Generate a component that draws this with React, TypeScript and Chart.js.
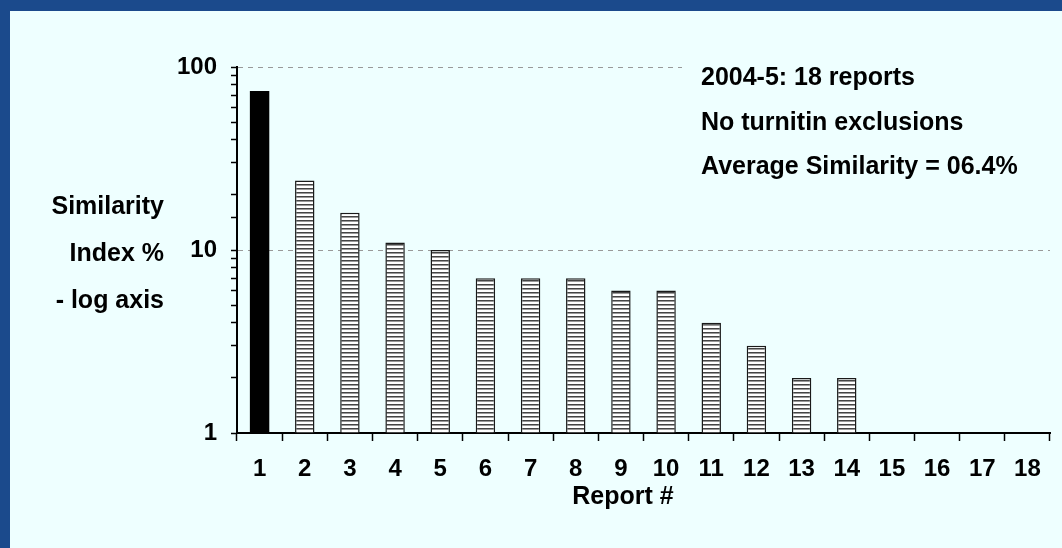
import React, { useEffect, useRef } from "react";
import { Chart, registerables } from "chart.js";

Chart.register(...registerables);

const categories = ["1", "2", "3", "4", "5", "6", "7", "8", "9", "10", "11", "12", "13", "14", "15", "16", "17", "18"];
const similarity: (number | null)[] = [74, 24, 16, 11, 10, 7, 7, 7, 6, 6, 4, 3, 2, 2, null, null, null, null];
const majorTicks = [1, 10, 100];
const noteLines = ["2004-5: 18 reports", "No turnitin exclusions", "Average Similarity = 06.4%"];
const yTitleLines = ["Similarity", "Index %", "- log axis"];
const xTitle = "Report #";

const FONT_FAMILY = "'Liberation Sans', Arial, Helvetica, sans-serif";
const BG = "#EEFFFF";
const FRAME = "#1B4A8C";

function makeStripePattern(): CanvasPattern | string {
  const c = document.createElement("canvas");
  c.width = 4;
  c.height = 4;
  const g = c.getContext("2d");
  if (!g) return "#fff";
  g.fillStyle = "#ffffff";
  g.fillRect(0, 0, 4, 4);
  g.fillStyle = "#444444";
  g.fillRect(0, 0, 4, 1);
  g.fillStyle = "#9a9a9a";
  g.fillRect(0, 1, 4, 1);
  const p = g.createPattern(c, "repeat");
  return p || "#fff";
}

const textPlugin = {
  id: "customText",
  afterDraw(chart: any) {
    const ctx = chart.ctx as CanvasRenderingContext2D;
    ctx.save();
    // note box covering grid
    ctx.fillStyle = BG;
    ctx.fillRect(682, 48, 370, 150);
    ctx.fillStyle = "#000";
    ctx.font = `bold 25px ${FONT_FAMILY}`;
    ctx.textBaseline = "alphabetic";
    ctx.textAlign = "left";
    const noteBase = [85, 130, 174];
    noteLines.forEach((t, i) => ctx.fillText(t, 701, noteBase[i]));
    // y title
    ctx.textAlign = "right";
    const yBase = [214, 261, 308];
    yTitleLines.forEach((t, i) => ctx.fillText(t, 164, yBase[i]));
    // x title
    ctx.textAlign = "center";
    ctx.fillText(xTitle, 623, 504);
    ctx.restore();
  },
};

export default function App() {
  const ref = useRef<HTMLCanvasElement | null>(null);

  useEffect(() => {
    document.body.style.margin = "0";
    const canvas = ref.current;
    if (!canvas) return;
    const stripe = makeStripePattern();
    const colors = similarity.map((_, i) => (i === 0 ? "#000000" : stripe));
    const borders = similarity.map((_, i) => (i === 0 ? 0 : 1.5));
    const chart = new Chart(canvas, {
      type: "bar",
      data: {
        labels: categories,
        datasets: [
          {
            data: similarity as any,
            backgroundColor: colors as any,
            borderColor: "#1a1a1a",
            borderWidth: borders as any,
            borderSkipped: "bottom",
            barPercentage: 0.43,
            categoryPercentage: 1,
          },
        ],
      },
      options: {
        responsive: false,
        animation: false,
        devicePixelRatio: 1,
        layout: { padding: { left: 0, top: 67, right: 12, bottom: 0 } },
        plugins: {
          legend: { display: false },
          tooltip: { enabled: false },
          title: { display: false },
        },
        scales: {
          x: {
            type: "category",
            offset: true,
            grid: {
              display: true,
              offset: true,
              drawOnChartArea: false,
              color: "#000",
              tickColor: "#000",
              tickLength: 8,
              tickWidth: 1.5,
            },
            border: { display: true, color: "#000", width: 2 },
            ticks: {
              color: "#000",
              font: { family: FONT_FAMILY, size: 24, weight: "bold" },
              padding: 14,
              maxRotation: 0,
              autoSkip: false,
            },
            afterFit: (scale: any) => {
              scale.height = 548 - 433;
            },
          },
          y: {
            type: "logarithmic",
            min: 1,
            max: 100,
            grid: {
              display: true,
              drawOnChartArea: true,
              color: (c: any) => {
                const v = c.tick && c.tick.value;
                return v === 10 || v === 100 ? "#999999" : "rgba(0,0,0,0)";
              },
              lineWidth: 1,
              tickColor: "#000",
              tickLength: 6,
              tickWidth: 1.5,
            },
            border: { display: true, color: "#000", width: 2, dash: [5, 5] },
            ticks: {
              color: "#000",
              font: { family: FONT_FAMILY, size: 24, weight: "bold" },
              padding: 14,
              autoSkip: false,
              callback: (value: any) => (majorTicks.includes(Number(value)) ? String(value) : ""),
            },
            afterFit: (scale: any) => {
              scale.width = 237;
            },
          },
        },
      },
      plugins: [textPlugin],
    });
    return () => chart.destroy();
  }, []);

  return (
    <div style={{ position: "relative", width: 1062, height: 548, background: FRAME, overflow: "hidden" }}>
      <style>{`body{margin:0}`}</style>
      <div style={{ position: "absolute", left: 10, top: 11, right: 0, bottom: 0, background: BG }} />
      <canvas ref={ref} width={1062} height={548} style={{ position: "absolute", left: 0, top: 0, width: 1062, height: 548 }} />
    </div>
  );
}
